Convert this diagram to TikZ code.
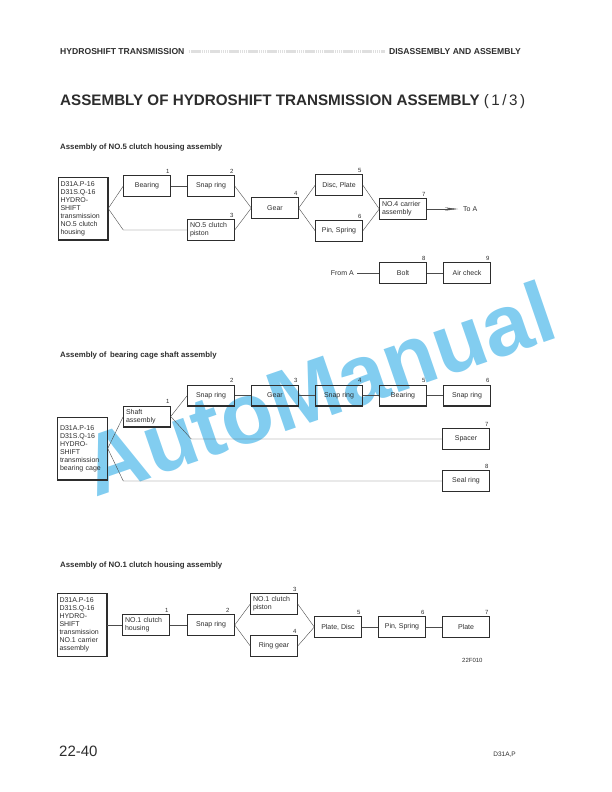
\documentclass[tikz,border=0pt]{standalone}
\usepackage{fontspec}
\setmainfont{Liberation Sans}
\usetikzlibrary{arrows.meta}
\definecolor{wmblue}{RGB}{130,205,240}
\definecolor{ink}{RGB}{45,45,45}
\begin{document}
\begin{tikzpicture}[x=1pt,y=-1pt,
  bx/.style={draw=ink, line width=0.45pt, minimum width=47pt, minimum height=21pt,
    inner sep=0pt, font=\fontsize{7}{7.8}\selectfont, text=ink,
    path picture={\draw[ink, line width=1.2pt] (path picture bounding box.north east)
      -- (path picture bounding box.south east) -- (path picture bounding box.south west);}},
  bxl/.style={bx, align=left, text width=42pt},
  src/.style={bx, minimum width=50pt, minimum height=63pt, align=left, text width=45pt,
    font=\fontsize{7}{8}\selectfont},
  num/.style={font=\fontsize{6}{6}\selectfont, inner sep=0pt, anchor=south east, text=ink,
    yshift=2pt, xshift=-1pt},
  ln/.style={draw=ink!85, line width=0.4pt},
  sect/.style={font=\bfseries\fontsize{7.8}{9}\selectfont, anchor=base west, inner sep=0pt, text=ink},
  hdr/.style={font=\bfseries\fontsize{8.6}{10}\selectfont, anchor=base west, inner sep=0pt, text=ink},
  wm/.style={font=\bfseries\fontsize{86}{86}\selectfont, text=wmblue, inner sep=0pt}
]
\useasboundingbox (0,0) rectangle (612,792);

% watermark
\node[wm, rotate=19] (wm) at (318,388) {AutoManual};

% header
\node[hdr] (h1) at (60,55) {HYDROSHIFT TRANSMISSION};
\node[hdr, anchor=base east] (h2) at (521,55) {DISASSEMBLY AND ASSEMBLY};
\draw[gray!25, line width=3pt, dash pattern=on 1.4pt off 0.5pt, shorten <=4pt, shorten >=4pt]
  ([yshift=3pt]h1.base east) -- ([yshift=3pt]h2.base west);
\node[font=\bfseries\fontsize{15.2}{17}\selectfont, anchor=base west, inner sep=0pt, text=ink] (title) at (60,105)
  {ASSEMBLY OF HYDROSHIFT TRANSMISSION ASSEMBLY {\mdseries(\,1\,/\,3\,)}};

% ---------------- Section 1
\node[sect] (t1) at (60,149) {Assembly of NO.5 clutch housing assembly};
\node[src] (src1) at (83,208.5) {D31A.P-16\\D31S.Q-16\\HYDRO-\\SHIFT\\transmission\\NO.5 clutch\\housing};
\node[bx] (bear) at (147,186) {Bearing};
\node[bx] (snap1) at (211,186) {Snap ring};
\node[bxl] (pist) at (211,230) {NO.5 clutch\\piston};
\node[bx] (gear1) at (275,208) {Gear};
\node[bx] (disc) at (339,185) {Disc, Plate};
\node[bx] (pin) at (339,231) {Pin, Spring};
\node[bxl] (no4) at (403,209) {NO.4 carrier\\assembly};
\node[font=\fontsize{7}{8}\selectfont, anchor=west, inner sep=0pt, text=ink] (toA) at (463,209) {To A};
\node[bx] (bolt) at (403,273) {Bolt};
\node[bx] (air) at (467,273) {Air check};
\node[font=\fontsize{7}{8}\selectfont, anchor=east, inner sep=0pt, text=ink] (fromA) at (354,273) {From A};

\node[num] (n11) at (bear.north east) {1};
\node[num] (n12) at (snap1.north east) {2};
\node[num] (n13) at (pist.north east) {3};
\node[num] (n14) at (gear1.north east) {4};
\node[num] (n15) at (disc.north east) {5};
\node[num] (n16) at (pin.north east) {6};
\node[num] (n17) at (no4.north east) {7};
\node[num] (n18) at (bolt.north east) {8};
\node[num] (n19) at (air.north east) {9};

\draw[ln] (src1.east) -- (bear.west);
\draw[ln] (src1.east) -- (bear.west |- pist.west) -- (pist.west);
\draw[ln] (bear.east) -- (snap1.west);
\draw[ln] (snap1.east) -- (gear1.west);
\draw[ln] (pist.east) -- (gear1.west);
\draw[ln] (gear1.east) -- (disc.west);
\draw[ln] (gear1.east) -- (pin.west);
\draw[ln] (disc.east) -- (no4.west);
\draw[ln] (pin.east) -- (no4.west);
\draw[ln, -{Stealth[length=13pt,width=3.2pt]}, shorten >=5pt] (no4.east) -- (toA.west);
\draw[ln, shorten <=3pt] (fromA.east) -- (bolt.west);
\draw[ln] (bolt.east) -- (air.west);

% ---------------- Section 2
\node[sect] (t2) at (60,357) {Assembly of\, bearing cage shaft assembly};
\node[src] (src2) at (82.5,448.5) {D31A.P-16\\D31S.Q-16\\HYDRO-\\SHIFT\\transmission\\bearing cage};
\node[bxl] (shaft) at (147,416.5) {Shaft\\assembly};
\node[bx] (snap2) at (211,395.5) {Snap ring};
\node[bx] (gear2) at (275,395.5) {Gear};
\node[bx] (snap3) at (339,395.5) {Snap ring};
\node[bx] (bear2) at (403,395.5) {Bearing};
\node[bx] (snap4) at (467,395.5) {Snap ring};
\node[bx] (spacer) at (466,439) {Spacer};
\node[bx] (seal) at (466,481) {Seal ring};

\node[num] (n21) at (shaft.north east) {1};
\node[num] (n22) at (snap2.north east) {2};
\node[num] (n23) at (gear2.north east) {3};
\node[num] (n24) at (snap3.north east) {4};
\node[num] (n25) at (bear2.north east) {5};
\node[num] (n26) at (snap4.north east) {6};
\node[num] (n27) at (spacer.north east) {7};
\node[num] (n28) at (seal.north east) {8};

\draw[ln] (src2.east) -- (shaft.west);
\draw[ln] (src2.east) -- (shaft.west |- seal.west) -- (seal.west);
\draw[ln] (shaft.east) -- (snap2.west);
\draw[ln] (shaft.east) -- ([xshift=4pt]snap2.west |- spacer.west) -- (spacer.west);
\draw[ln] (snap2.east) -- (gear2.west);
\draw[ln] (gear2.east) -- (snap3.west);
\draw[ln] (snap3.east) -- (bear2.west);
\draw[ln] (bear2.east) -- (snap4.west);

% ---------------- Section 3
\node[sect] (t3) at (60,567) {Assembly of NO.1 clutch housing assembly};
\node[src] (src3) at (82,625) {D31A.P-16\\D31S.Q-16\\HYDRO-\\SHIFT\\transmission\\NO.1 carrier\\assembly};
\node[bxl] (hous) at (146,625) {NO.1 clutch\\housing};
\node[bx] (snap5) at (211,625) {Snap ring};
\node[bxl] (pist3) at (274,604) {NO.1 clutch\\piston};
\node[bx] (ring) at (274,646) {Ring gear};
\node[bx] (pldisc) at (338,627) {Plate, Disc};
\node[bx] (pinsp) at (402,627) {Pin, Spring};
\node[bx] (plate) at (466,627) {Plate};

\node[num] (n31) at (hous.north east) {1};
\node[num, xshift=-4pt] (n32) at (snap5.north east) {2};
\node[num] (n33) at (pist3.north east) {3};
\node[num] (n34) at (ring.north east) {4};
\node[num] (n35) at (pldisc.north east) {5};
\node[num] (n36) at (pinsp.north east) {6};
\node[num] (n37) at (plate.north east) {7};

\draw[ln] (src3.east) -- (hous.west);
\draw[ln] (hous.east) -- (snap5.west);
\draw[ln] (snap5.east) -- (pist3.west);
\draw[ln] (snap5.east) -- (ring.west);
\draw[ln] (pist3.east) -- (pldisc.west);
\draw[ln] (ring.east) -- (pldisc.west);
\draw[ln] (pldisc.east) -- (pinsp.west);
\draw[ln] (pinsp.east) -- (plate.west);

\node[font=\fontsize{6}{7}\selectfont, anchor=base west, inner sep=0pt, text=ink] (code) at (462,662) {22F010};

% footer
\node[font=\fontsize{15}{17}\selectfont, anchor=base west, inner sep=0pt, text=ink] (page) at (59,756) {22-40};
\node[font=\fontsize{6.5}{8}\selectfont, anchor=base east, inner sep=0pt, text=ink] (model) at (516,756) {D31A,P};
\end{tikzpicture}
\end{document}
